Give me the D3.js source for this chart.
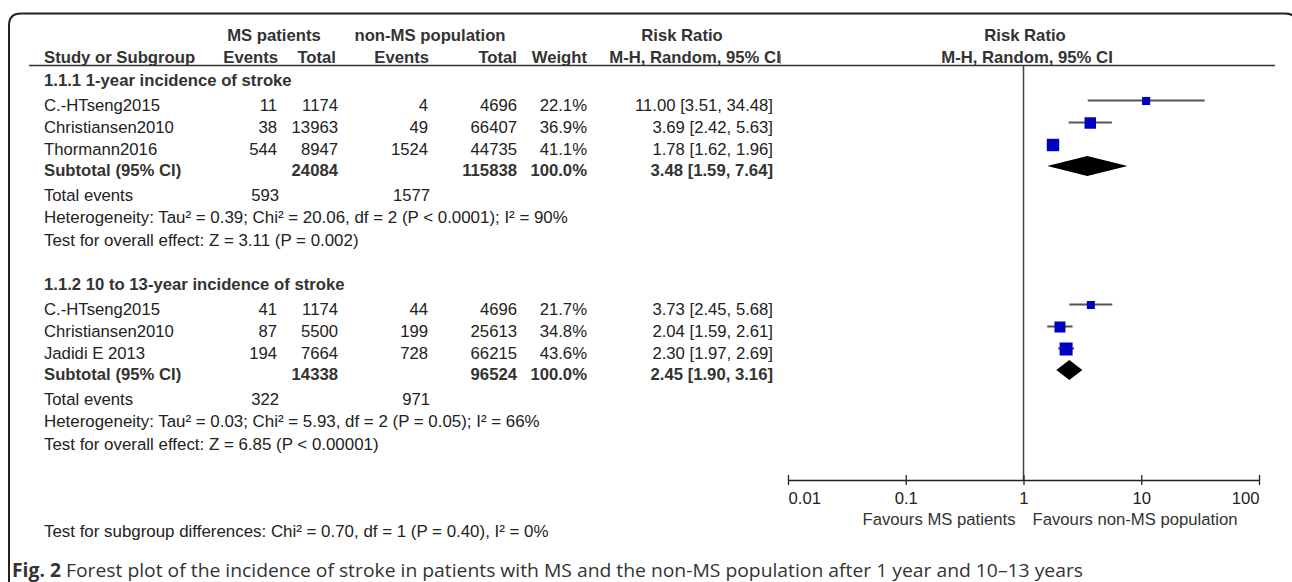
<!DOCTYPE html>
<html><head><meta charset="utf-8">
<script src="https://cdn.jsdelivr.net/npm/d3@7"></script>
<style>body{margin:0;background:#fff} svg{display:block}</style>
</head><body>
<svg id="c" width="1292" height="582"></svg>
<script>
// ---------- data ----------
const g1Title = "1.1.1 1-year incidence of stroke";
const g1Studies = ["C.-HTseng2015", "Christiansen2010", "Thormann2016"];
const g1MSEvents = [11, 38, 544];
const g1MSTotal = [1174, 13963, 8947];
const g1NonEvents = [4, 49, 1524];
const g1NonTotal = [4696, 66407, 44735];
const g1Weight = [22.1, 36.9, 41.1];
const g1RR = [11.00, 3.69, 1.78];
const g1Lo = [3.51, 2.42, 1.62];
const g1Hi = [34.48, 5.63, 1.96];
const g1SubTotals = [24084, 115838];
const g1SubEffect = [3.48, 1.59, 7.64];
const g1TotalEvents = [593, 1577];
const g1Het = "Heterogeneity: Tau² = 0.39; Chi² = 20.06, df = 2 (P < 0.0001); I² = 90%";
const g1Overall = "Test for overall effect: Z = 3.11 (P = 0.002)";

const g2Title = "1.1.2 10 to 13-year incidence of stroke";
const g2Studies = ["C.-HTseng2015", "Christiansen2010", "Jadidi E 2013"];
const g2MSEvents = [41, 87, 194];
const g2MSTotal = [1174, 5500, 7664];
const g2NonEvents = [44, 199, 728];
const g2NonTotal = [4696, 25613, 66215];
const g2Weight = [21.7, 34.8, 43.6];
const g2RR = [3.73, 2.04, 2.30];
const g2Lo = [2.45, 1.59, 1.97];
const g2Hi = [5.68, 2.61, 2.69];
const g2SubTotals = [14338, 96524];
const g2SubEffect = [2.45, 1.90, 3.16];
const g2TotalEvents = [322, 971];
const g2Het = "Heterogeneity: Tau² = 0.03; Chi² = 5.93, df = 2 (P = 0.05); I² = 66%";
const g2Overall = "Test for overall effect: Z = 6.85 (P < 0.00001)";

const subgroupTest = "Test for subgroup differences: Chi² = 0.70, df = 1 (P = 0.40), I² = 0%";
const tickValues = [0.01, 0.1, 1, 10, 100];
const tickLabels = ["0.01", "0.1", "1", "10", "100"];
const favourLeft = "Favours MS patients";
const favourRight = "Favours non-MS population";
const captionBold = "Fig. 2";
const captionText = " Forest plot of the incidence of stroke in patients with MS and the non-MS population after 1 year and 10–13 years";

// ---------- layout ----------
const svg = d3.select("#c");
const FONT = "'Liberation Sans', Arial, Helvetica, sans-serif";
const FS = 16.7;
const FS2 = 16.9;
const TXT = "#222";
const x = d3.scaleLog().domain([0.01, 100]).range([788, 1259]);
const sq = d3.scaleLinear().domain([21.7, 43.6]).range([8, 13]);
const col = {name: 44, ev: 277, tot: 338, nev: 428, ntot: 517, w: 587, ci: 773};
const fmt2 = d3.format(".2f"), fmtW = d3.format(".1f");

// border
const bx = 9, by = 13.5, bw = 1288, bh = 620, r = 12;
svg.append("path")
  .attr("d", `M${bx},${by + bh} V${by + r} Q${bx},${by} ${bx + r},${by} H${bx + bw - r} Q${bx + bw},${by} ${bx + bw},${by + r} V${by + bh}`)
  .attr("fill", "none").attr("stroke", "#222").attr("stroke-width", 2);

function txt(s, xx, yy, anchor, bold, color, size, font) {
  return svg.append("text").attr("x", xx).attr("y", yy)
    .attr("text-anchor", anchor || "start")
    .attr("font-family", font || FONT)
    .attr("font-size", size || FS)
    .attr("font-weight", bold ? "bold" : "normal")
    .attr("fill", color || TXT).text(s);
}

// headers
const HC = "#333";
txt("MS patients", 274, 41, "middle", true, HC);
txt("non-MS population", 430, 41, "middle", true, HC);
txt("Risk Ratio", 682, 41, "middle", true, HC);
txt("Risk Ratio", 1025, 41, "middle", true, HC);
txt("Study or Subgroup", col.name, 63, "start", true, HC);
txt("Events", 278, 63, "end", true, HC);
txt("Total", 336, 63, "end", true, HC);
txt("Events", 429, 63, "end", true, HC);
txt("Total", 517, 63, "end", true, HC);
txt("Weight", 587, 63, "end", true, HC);
txt("M-H, Random, 95% CI", 695, 63, "middle", true, HC);
txt("M-H, Random, 95% CI", 1027, 63, "middle", true, HC);
svg.append("line").attr("x1", 29).attr("x2", 1275).attr("y1", 65.5).attr("y2", 65.5)
  .attr("stroke", "#333").attr("stroke-width", 1.5);
svg.append("line").attr("x1", 780.5).attr("x2", 780.5).attr("y1", 54).attr("y2", 64)
  .attr("stroke", "#999").attr("stroke-width", 1);

// reference line at RR = 1
svg.append("line").attr("x1", x(1)).attr("x2", x(1)).attr("y1", 65.5).attr("y2", 480)
  .attr("stroke", "#444").attr("stroke-width", 1.5);

function drawGroup(top, title, studies, mse, mst, nev, nt, w, rr, lo, hi, subTot, subEff, totEv, het, overall) {
  txt(title, col.name, top, "start", true, HC);
  const rowY = [top + 24.5, top + 46.5, top + 68.5];
  studies.forEach((s, i) => {
    const y = rowY[i];
    txt(s, col.name, y);
    txt(mse[i], col.ev, y, "end");
    txt(mst[i], col.tot, y, "end");
    txt(nev[i], col.nev, y, "end");
    txt(nt[i], col.ntot, y, "end");
    txt(fmtW(w[i]) + "%", col.w, y, "end");
    txt(`${fmt2(rr[i])} [${fmt2(lo[i])}, ${fmt2(hi[i])}]`, col.ci, y, "end");
    const cy = y - 10;
    svg.append("line").attr("x1", x(lo[i])).attr("x2", x(hi[i])).attr("y1", cy).attr("y2", cy)
      .attr("stroke", "#555").attr("stroke-width", 2);
    const s2 = sq(w[i]);
    svg.append("rect").attr("x", x(rr[i]) - s2 / 2).attr("y", cy - s2 / 2 + 0.5)
      .attr("width", s2).attr("height", s2).attr("fill", "#0000C0");
  });
  const sy = top + 90;
  txt("Subtotal (95% CI)", col.name, sy, "start", true, HC);
  txt(subTot[0], col.tot, sy, "end", true, HC);
  txt(subTot[1], col.ntot, sy, "end", true, HC);
  txt("100.0%", col.w, sy, "end", true, HC);
  txt(`${fmt2(subEff[0])} [${fmt2(subEff[1])}, ${fmt2(subEff[2])}]`, col.ci, sy, "end", true, HC);
  const dy = sy - 10;
  svg.append("path")
    .attr("d", `M${x(subEff[1])},${dy} L${x(subEff[0])},${dy - 10} L${x(subEff[2])},${dy} L${x(subEff[0])},${dy + 10} Z`)
    .attr("fill", "#000");
  const ty = top + 115;
  txt("Total events", col.name, ty);
  txt(totEv[0], col.ev + 2, ty, "end");
  txt(totEv[1], col.nev + 2, ty, "end");
  txt(het, col.name, top + 137, "start", false, TXT, FS2);
  txt(overall, col.name, top + 160, "start", false, TXT, FS2);
}

drawGroup(86, g1Title, g1Studies, g1MSEvents, g1MSTotal, g1NonEvents, g1NonTotal, g1Weight, g1RR, g1Lo, g1Hi, g1SubTotals, g1SubEffect, g1TotalEvents, g1Het, g1Overall);
drawGroup(290, g2Title, g2Studies, g2MSEvents, g2MSTotal, g2NonEvents, g2NonTotal, g2Weight, g2RR, g2Lo, g2Hi, g2SubTotals, g2SubEffect, g2TotalEvents, g2Het, g2Overall);

// axis
const axis = d3.axisBottom(x).tickValues(tickValues).tickFormat((d, i) => tickLabels[i])
  .tickSizeInner(5).tickSizeOuter(0);
const ag = svg.append("g").attr("transform", "translate(0,480)").call(axis);
ag.select(".domain").attr("stroke", "#222").attr("stroke-width", 1.3);
ag.selectAll(".tick line").attr("y1", -5).attr("y2", 5).attr("stroke", "#222").attr("stroke-width", 1.3);
ag.selectAll(".tick text").attr("y", 24).attr("dy", 0)
  .attr("font-family", FONT).attr("font-size", FS).attr("fill", TXT)
  .attr("text-anchor", (d, i) => i === 0 ? "start" : (i === tickValues.length - 1 ? "end" : "middle"));
ag.attr("font-family", FONT);

txt(favourLeft, x(1) - 8, 525, "end", false, "#333");
txt(favourRight, x(1) + 9, 525, "start", false, "#333");

txt(subgroupTest, col.name, 537, "start", false, TXT, FS2);

// caption
const cap = svg.append("text").attr("x", 12).attr("y", 577)
  .attr("font-family", "'Open Sans', 'Noto Sans', sans-serif").attr("font-size", 18.8).attr("fill", "#333")
  .attr("textLength", 1071).attr("lengthAdjust", "spacingAndGlyphs");
cap.append("tspan").attr("font-weight", "bold").text(captionBold);
cap.append("tspan").text(captionText);
</script>
</body></html>
